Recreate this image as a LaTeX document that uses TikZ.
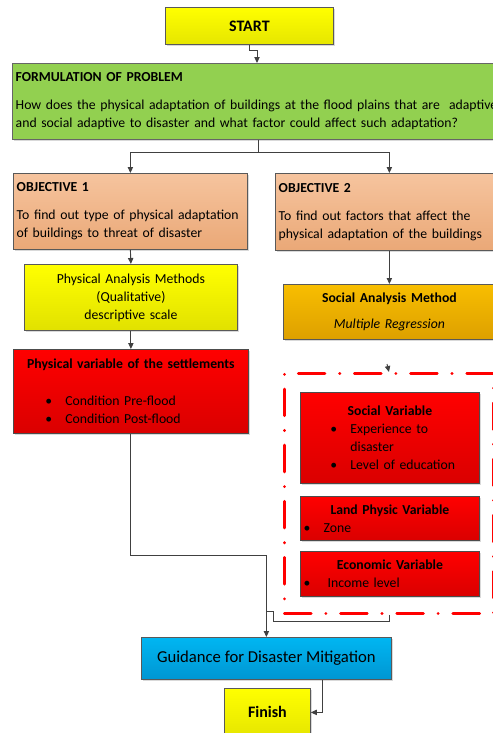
\documentclass[tikz,border=0pt]{standalone}
\usepackage{fontspec}
\setmainfont{Carlito}
\usetikzlibrary{arrows.meta,shadows}

\definecolor{startyel}{HTML}{FFFF00}
\definecolor{startyeldk}{HTML}{E6E600}
\definecolor{probgreen}{HTML}{92D050}
\definecolor{objtop}{HTML}{F6C49E}
\definecolor{objbot}{HTML}{EAA877}
\definecolor{soctop}{HTML}{F8BE00}
\definecolor{socbot}{HTML}{DDA000}
\definecolor{vartop}{HTML}{FF0000}
\definecolor{varbot}{HTML}{DA0000}
\definecolor{guidetop}{HTML}{00B6F2}
\definecolor{guidebot}{HTML}{0096D2}

\begin{document}
\begin{tikzpicture}[x=0.75pt,y=-0.75pt,
  font=\fontsize{10.3}{13.5}\selectfont,
  box/.style={draw=black!65, line width=0.6pt, anchor=north west,
    inner xsep=2.5pt, inner ysep=0pt,
    drop shadow={shadow xshift=1.2pt, shadow yshift=-1.2pt, opacity=0.3}},
  startbox/.style={box, top color=startyel, bottom color=startyeldk},
  probbox/.style={box, fill=probgreen, draw=black!60},
  objbox/.style={box, top color=objtop, bottom color=objbot},
  methbox/.style={box, top color=startyel, bottom color=startyeldk!98!black},
  socbox/.style={box, top color=soctop, bottom color=socbot},
  varbox/.style={box, top color=vartop, bottom color=varbot, draw=black!70},
  guidebox/.style={box, top color=guidetop, bottom color=guidebot},
  vargroup/.style={draw=red, line width=2.2pt, line cap=round, anchor=north west,
    dash pattern=on 20pt off 11pt on 0.1pt off 11pt},
  conn/.style={draw=black!75, line width=0.7pt, -{Triangle[length=4.5pt,width=4pt]}},
  wire/.style={draw=black!75, line width=0.7pt}]
\useasboundingbox (0,0) rectangle (493,733);
\clip (0,0) rectangle (493,733);

\node[startbox, minimum width=126pt, minimum height=27.75pt,
  font=\fontsize{12}{14}\selectfont\bfseries] (start) at (165,7) {START};
\node[probbox, minimum width=369pt, minimum height=57pt, text width=364pt, align=left] (prob) at (12,63)
  {\textbf{FORMULATION OF PROBLEM}\\[7.5pt]
   \mbox{How does the physical adaptation of buildings at the flood plains that are\ \ adaptive}\\
   \mbox{and social adaptive to disaster and what factor could affect such adaptation?}};

\node[objbox, minimum width=175.5pt, minimum height=57pt, text width=170.5pt, align=left] (obj1) at (13,173)
  {\textbf{OBJECTIVE 1}\\[7.5pt]\mbox{To find out type of physical adaptation}\\\mbox{of buildings to threat of disaster}};
\node[objbox, minimum width=171pt, minimum height=57.75pt, text width=166pt, align=left] (obj2) at (275,173)
  {\textbf{OBJECTIVE 2}\\[7.5pt]\mbox{To find out factors that affect the}\\\mbox{physical adaptation of the buildings}};

\node[methbox, minimum width=159.75pt, minimum height=49.5pt, text width=154.75pt, align=center] (physmeth) at (24,264)
  {Physical Analysis Methods\\(Qualitative)\\descriptive scale};
\node[socbox, minimum width=159pt, minimum height=41.25pt, text width=154pt, align=center] (socmeth) at (283,284)
  {\textbf{Social Analysis Method}\\[6pt]\textit{Multiple Regression}};

\node[varbox, minimum width=176.25pt, minimum height=63pt, text width=171.25pt, align=center] (physvar) at (13,349)
  {\textbf{Physical variable of the settlements}\\[14pt]
   \makebox[\linewidth][l]{\hspace*{21.5pt}\makebox[15pt][l]{\textbullet}Condition Pre-flood}\\
   \makebox[\linewidth][l]{\hspace*{21.5pt}\makebox[15pt][l]{\textbullet}Condition Post-flood}};

\node[vargroup, minimum width=156.75pt, minimum height=180pt] (group) at (283,372) {};
\node[varbox, minimum width=134.25pt, minimum height=68.25pt, text width=129.25pt, align=center] (socvar) at (300,392)
  {\textbf{Social Variable}\\
   \makebox[\linewidth][l]{\hspace*{20pt}\makebox[15pt][l]{\textbullet}Experience to}\\
   \makebox[\linewidth][l]{\hspace*{35pt}disaster}\\
   \makebox[\linewidth][l]{\hspace*{20pt}\makebox[15pt][l]{\textbullet}Level of education}};
\node[varbox, minimum width=134.25pt, minimum height=33pt, text width=129.25pt, align=center] (landvar) at (300,496)
  {\textbf{Land Physic Variable}\\
   \makebox[\linewidth][l]{\makebox[15pt][l]{\textbullet}Zone}};
\node[varbox, minimum width=134.25pt, minimum height=33.75pt, text width=129.25pt, align=center] (econvar) at (300,551)
  {\textbf{Economic Variable}\\
   \makebox[\linewidth][l]{\makebox[18pt][l]{\textbullet}Income level}};

\node[guidebox, minimum width=187.5pt, minimum height=31.5pt, font=\fontsize{12.5}{15}\selectfont] (guide) at (141,637)
  {Guidance for Disaster Mitigation};
\node[startbox, minimum width=64.5pt, minimum height=36pt, font=\fontsize{12}{14}\selectfont\bfseries] (finish) at (224,688)
  {Finish};

\coordinate (probin) at (257,63);
\coordinate (stub) at (387,364);
\draw[conn] (start.south) -- ++(0,6) -| (probin);
\draw[wire] (prob.south) -- ++(0,13) coordinate (split);
\draw[conn] (split) -| (obj1.north);
\draw[conn] (split) -| (obj2.north);
\draw[conn] (obj1.south) -- (physmeth.north);
\draw[conn] (obj2.south) -- (socmeth.north);
\draw[conn] (physmeth.south) -- (physvar.north);
\draw[conn] (stub) -- (group.north);
\draw[conn] (physvar.south) -- ++(0,122) -| (guide.north);
\draw[wire] (group.south) -- ++(0,7) -| ++(-115.5,-10) -- ++(-6,0);
\draw[conn] ([xshift=42pt]guide.south) |- (finish.east);
\end{tikzpicture}
\end{document}
